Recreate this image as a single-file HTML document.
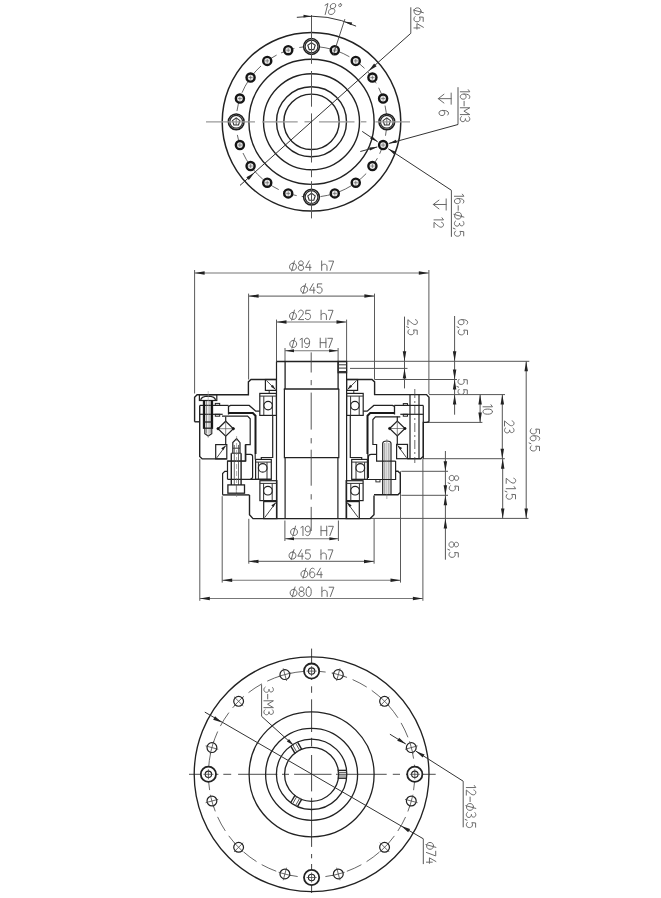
<!DOCTYPE html>
<html><head><meta charset="utf-8"><style>
html,body{margin:0;padding:0;background:#fff;}
svg{display:block;font-family:"Liberation Sans",sans-serif;}
</style></head><body>
<svg width="661" height="898" viewBox="0 0 661 898">
<rect width="661" height="898" fill="#fff"/>
<circle cx="311.50" cy="121.80" r="89.30" stroke="#222" stroke-width="1.5" fill="none"/>
<circle cx="311.50" cy="121.80" r="62.60" stroke="#222" stroke-width="1.4" fill="none"/>
<circle cx="311.50" cy="121.80" r="48.00" stroke="#222" stroke-width="1.4" fill="none"/>
<circle cx="311.50" cy="121.80" r="35.00" stroke="#222" stroke-width="1.4" fill="none"/>
<circle cx="311.50" cy="121.80" r="27.70" stroke="#222" stroke-width="1.4" fill="none"/>
<circle cx="311.50" cy="121.80" r="75.30" stroke="#555" stroke-width="0.9" fill="none" stroke-dasharray="14 5"/>
<circle cx="311.50" cy="46.50" r="7.90" stroke="#1e1e1e" stroke-width="1.5" fill="#fff"/>
<circle cx="311.50" cy="46.50" r="6.40" stroke="#2a2a2a" stroke-width="1.2" fill="none"/>
<polygon points="311.50,42.60 315.21,45.29 313.79,49.66 309.21,49.66 307.79,45.29" stroke="#333" stroke-width="1.1" fill="none"/>
<line x1="311.50" y1="42.60" x2="311.50" y2="49.70" stroke="#444" stroke-width="0.8" />
<circle cx="334.77" cy="50.19" r="4.05" stroke="#151515" stroke-width="2.4" fill="#e8e8e8"/>
<line x1="332.77" y1="50.19" x2="336.77" y2="50.19" stroke="#666" stroke-width="0.7" />
<line x1="334.77" y1="48.19" x2="334.77" y2="52.19" stroke="#666" stroke-width="0.7" />
<circle cx="355.76" cy="60.88" r="4.05" stroke="#151515" stroke-width="2.4" fill="#e8e8e8"/>
<line x1="353.76" y1="60.88" x2="357.76" y2="60.88" stroke="#666" stroke-width="0.7" />
<line x1="355.76" y1="58.88" x2="355.76" y2="62.88" stroke="#666" stroke-width="0.7" />
<circle cx="372.42" cy="77.54" r="4.05" stroke="#151515" stroke-width="2.4" fill="#e8e8e8"/>
<line x1="370.42" y1="77.54" x2="374.42" y2="77.54" stroke="#666" stroke-width="0.7" />
<line x1="372.42" y1="75.54" x2="372.42" y2="79.54" stroke="#666" stroke-width="0.7" />
<circle cx="383.11" cy="98.53" r="4.05" stroke="#151515" stroke-width="2.4" fill="#e8e8e8"/>
<line x1="381.11" y1="98.53" x2="385.11" y2="98.53" stroke="#666" stroke-width="0.7" />
<line x1="383.11" y1="96.53" x2="383.11" y2="100.53" stroke="#666" stroke-width="0.7" />
<circle cx="386.80" cy="121.80" r="7.90" stroke="#1e1e1e" stroke-width="1.5" fill="#fff"/>
<circle cx="386.80" cy="121.80" r="6.40" stroke="#2a2a2a" stroke-width="1.2" fill="none"/>
<polygon points="386.80,117.90 390.51,120.59 389.09,124.96 384.51,124.96 383.09,120.59" stroke="#333" stroke-width="1.1" fill="none"/>
<line x1="386.80" y1="117.90" x2="386.80" y2="125.00" stroke="#444" stroke-width="0.8" />
<circle cx="383.11" cy="145.07" r="4.05" stroke="#151515" stroke-width="2.4" fill="#e8e8e8"/>
<line x1="381.11" y1="145.07" x2="385.11" y2="145.07" stroke="#666" stroke-width="0.7" />
<line x1="383.11" y1="143.07" x2="383.11" y2="147.07" stroke="#666" stroke-width="0.7" />
<circle cx="372.42" cy="166.06" r="4.05" stroke="#151515" stroke-width="2.4" fill="#e8e8e8"/>
<line x1="370.42" y1="166.06" x2="374.42" y2="166.06" stroke="#666" stroke-width="0.7" />
<line x1="372.42" y1="164.06" x2="372.42" y2="168.06" stroke="#666" stroke-width="0.7" />
<circle cx="355.76" cy="182.72" r="4.05" stroke="#151515" stroke-width="2.4" fill="#e8e8e8"/>
<line x1="353.76" y1="182.72" x2="357.76" y2="182.72" stroke="#666" stroke-width="0.7" />
<line x1="355.76" y1="180.72" x2="355.76" y2="184.72" stroke="#666" stroke-width="0.7" />
<circle cx="334.77" cy="193.41" r="4.05" stroke="#151515" stroke-width="2.4" fill="#e8e8e8"/>
<line x1="332.77" y1="193.41" x2="336.77" y2="193.41" stroke="#666" stroke-width="0.7" />
<line x1="334.77" y1="191.41" x2="334.77" y2="195.41" stroke="#666" stroke-width="0.7" />
<circle cx="311.50" cy="197.10" r="7.90" stroke="#1e1e1e" stroke-width="1.5" fill="#fff"/>
<circle cx="311.50" cy="197.10" r="6.40" stroke="#2a2a2a" stroke-width="1.2" fill="none"/>
<polygon points="311.50,193.20 315.21,195.89 313.79,200.26 309.21,200.26 307.79,195.89" stroke="#333" stroke-width="1.1" fill="none"/>
<line x1="311.50" y1="193.20" x2="311.50" y2="200.30" stroke="#444" stroke-width="0.8" />
<circle cx="288.23" cy="193.41" r="4.05" stroke="#151515" stroke-width="2.4" fill="#e8e8e8"/>
<line x1="286.23" y1="193.41" x2="290.23" y2="193.41" stroke="#666" stroke-width="0.7" />
<line x1="288.23" y1="191.41" x2="288.23" y2="195.41" stroke="#666" stroke-width="0.7" />
<circle cx="267.24" cy="182.72" r="4.05" stroke="#151515" stroke-width="2.4" fill="#e8e8e8"/>
<line x1="265.24" y1="182.72" x2="269.24" y2="182.72" stroke="#666" stroke-width="0.7" />
<line x1="267.24" y1="180.72" x2="267.24" y2="184.72" stroke="#666" stroke-width="0.7" />
<circle cx="250.58" cy="166.06" r="4.05" stroke="#151515" stroke-width="2.4" fill="#e8e8e8"/>
<line x1="248.58" y1="166.06" x2="252.58" y2="166.06" stroke="#666" stroke-width="0.7" />
<line x1="250.58" y1="164.06" x2="250.58" y2="168.06" stroke="#666" stroke-width="0.7" />
<circle cx="239.89" cy="145.07" r="4.05" stroke="#151515" stroke-width="2.4" fill="#e8e8e8"/>
<line x1="237.89" y1="145.07" x2="241.89" y2="145.07" stroke="#666" stroke-width="0.7" />
<line x1="239.89" y1="143.07" x2="239.89" y2="147.07" stroke="#666" stroke-width="0.7" />
<circle cx="236.20" cy="121.80" r="7.90" stroke="#1e1e1e" stroke-width="1.5" fill="#fff"/>
<circle cx="236.20" cy="121.80" r="6.40" stroke="#2a2a2a" stroke-width="1.2" fill="none"/>
<polygon points="236.20,117.90 239.91,120.59 238.49,124.96 233.91,124.96 232.49,120.59" stroke="#333" stroke-width="1.1" fill="none"/>
<line x1="236.20" y1="117.90" x2="236.20" y2="125.00" stroke="#444" stroke-width="0.8" />
<circle cx="239.89" cy="98.53" r="4.05" stroke="#151515" stroke-width="2.4" fill="#e8e8e8"/>
<line x1="237.89" y1="98.53" x2="241.89" y2="98.53" stroke="#666" stroke-width="0.7" />
<line x1="239.89" y1="96.53" x2="239.89" y2="100.53" stroke="#666" stroke-width="0.7" />
<circle cx="250.58" cy="77.54" r="4.05" stroke="#151515" stroke-width="2.4" fill="#e8e8e8"/>
<line x1="248.58" y1="77.54" x2="252.58" y2="77.54" stroke="#666" stroke-width="0.7" />
<line x1="250.58" y1="75.54" x2="250.58" y2="79.54" stroke="#666" stroke-width="0.7" />
<circle cx="267.24" cy="60.88" r="4.05" stroke="#151515" stroke-width="2.4" fill="#e8e8e8"/>
<line x1="265.24" y1="60.88" x2="269.24" y2="60.88" stroke="#666" stroke-width="0.7" />
<line x1="267.24" y1="58.88" x2="267.24" y2="62.88" stroke="#666" stroke-width="0.7" />
<circle cx="288.23" cy="50.19" r="4.05" stroke="#151515" stroke-width="2.4" fill="#e8e8e8"/>
<line x1="286.23" y1="50.19" x2="290.23" y2="50.19" stroke="#666" stroke-width="0.7" />
<line x1="288.23" y1="48.19" x2="288.23" y2="52.19" stroke="#666" stroke-width="0.7" />
<line x1="206.00" y1="121.80" x2="255.00" y2="121.80" stroke="#9a9a9a" stroke-width="1.3" />
<line x1="262.30" y1="121.80" x2="297.70" y2="121.80" stroke="#9a9a9a" stroke-width="1.3" />
<line x1="304.50" y1="121.80" x2="311.80" y2="121.80" stroke="#9a9a9a" stroke-width="1.3" />
<line x1="319.00" y1="121.80" x2="354.50" y2="121.80" stroke="#9a9a9a" stroke-width="1.3" />
<line x1="361.00" y1="121.80" x2="366.40" y2="121.80" stroke="#9a9a9a" stroke-width="1.3" />
<line x1="375.40" y1="121.80" x2="410.00" y2="121.80" stroke="#9a9a9a" stroke-width="1.3" />
<line x1="311.50" y1="15.00" x2="311.50" y2="63.80" stroke="#555" stroke-width="1.0" />
<line x1="311.50" y1="71.00" x2="311.50" y2="106.70" stroke="#555" stroke-width="1.0" />
<line x1="311.50" y1="113.40" x2="311.50" y2="162.50" stroke="#555" stroke-width="1.0" />
<line x1="311.50" y1="169.00" x2="311.50" y2="177.20" stroke="#555" stroke-width="1.0" />
<line x1="311.50" y1="181.20" x2="311.50" y2="218.40" stroke="#555" stroke-width="1.0" />
<path d="M296.82,17.33 A105.5,105.5 0 0 1 356.09,26.18" stroke="#333" stroke-width="1.0" fill="none" />
<path d="M311.50,16.30 L303.47,17.54 L303.53,14.74Z" fill="#222" stroke="none"/>
<path d="M344.10,21.46 L352.14,22.60 L351.28,25.27Z" fill="#222" stroke="none"/>
<line x1="333.13" y1="55.23" x2="344.87" y2="19.09" stroke="#444" stroke-width="0.9" />
<line x1="240.00" y1="185.40" x2="410.80" y2="33.30" stroke="#333" stroke-width="1.0" />
<line x1="410.80" y1="33.30" x2="410.80" y2="7.30" stroke="#555" stroke-width="1.0" />
<path d="M368.63,70.92 L374.09,63.52 L376.62,66.36Z" fill="#222" stroke="none"/>
<path d="M254.37,172.68 L248.91,180.08 L246.38,177.24Z" fill="#222" stroke="none"/>
<line x1="458.00" y1="87.20" x2="458.00" y2="124.50" stroke="#555" stroke-width="1.0" />
<line x1="458.00" y1="124.50" x2="388.70" y2="143.50" stroke="#333" stroke-width="1.0" />
<path d="M388.70,143.50 L395.95,139.75 L396.83,142.83Z" fill="#222" stroke="none"/>
<line x1="388.30" y1="148.80" x2="451.40" y2="190.30" stroke="#333" stroke-width="1.0" />
<line x1="451.40" y1="190.30" x2="451.40" y2="236.80" stroke="#555" stroke-width="1.0" />
<path d="M388.30,148.80 L395.89,151.78 L394.16,154.47Z" fill="#222" stroke="none"/>
<line x1="362.20" y1="131.40" x2="377.70" y2="141.80" stroke="#333" stroke-width="1.0" />
<path d="M377.70,141.80 L370.17,138.67 L371.95,136.01Z" fill="#222" stroke="none"/>
<line x1="360.30" y1="151.50" x2="377.30" y2="146.90" stroke="#333" stroke-width="1.0" />
<path d="M377.30,146.90 L370.00,150.53 L369.16,147.45Z" fill="#222" stroke="none"/>
<line x1="194.60" y1="273.00" x2="428.80" y2="273.00" stroke="#777" stroke-width="1.1" />
<path d="M194.60,273.00 L204.60,271.25 L204.60,274.75Z" fill="#222" stroke="none"/>
<path d="M428.80,273.00 L418.80,274.75 L418.80,271.25Z" fill="#222" stroke="none"/>
<line x1="194.60" y1="270.00" x2="194.60" y2="393.50" stroke="#5a5a5a" stroke-width="1.0" />
<line x1="428.90" y1="270.00" x2="428.90" y2="394.00" stroke="#5a5a5a" stroke-width="1.0" />
<line x1="248.60" y1="296.10" x2="374.40" y2="296.10" stroke="#777" stroke-width="1.1" />
<path d="M248.60,296.10 L258.60,294.35 L258.60,297.85Z" fill="#222" stroke="none"/>
<path d="M374.40,296.10 L364.40,297.85 L364.40,294.35Z" fill="#222" stroke="none"/>
<line x1="248.60" y1="293.60" x2="248.60" y2="379.50" stroke="#5a5a5a" stroke-width="1.0" />
<line x1="374.50" y1="293.60" x2="374.50" y2="379.50" stroke="#5a5a5a" stroke-width="1.0" />
<line x1="276.50" y1="322.00" x2="346.50" y2="322.00" stroke="#777" stroke-width="1.1" />
<path d="M276.50,322.00 L286.50,320.25 L286.50,323.75Z" fill="#222" stroke="none"/>
<path d="M346.50,322.00 L336.50,323.75 L336.50,320.25Z" fill="#222" stroke="none"/>
<line x1="276.50" y1="319.60" x2="276.50" y2="361.50" stroke="#5a5a5a" stroke-width="1.0" />
<line x1="346.60" y1="319.60" x2="346.60" y2="361.50" stroke="#5a5a5a" stroke-width="1.0" />
<line x1="285.00" y1="350.70" x2="338.10" y2="350.70" stroke="#777" stroke-width="1.1" />
<path d="M285.00,350.70 L294.00,349.20 L294.00,352.20Z" fill="#222" stroke="none"/>
<path d="M338.10,350.70 L329.10,352.20 L329.10,349.20Z" fill="#222" stroke="none"/>
<line x1="285.00" y1="348.00" x2="285.00" y2="361.50" stroke="#5a5a5a" stroke-width="1.0" />
<line x1="338.10" y1="348.00" x2="338.10" y2="361.50" stroke="#5a5a5a" stroke-width="1.0" />
<line x1="285.00" y1="538.70" x2="338.40" y2="538.70" stroke="#777" stroke-width="1.1" />
<path d="M285.00,538.70 L294.00,537.20 L294.00,540.20Z" fill="#222" stroke="none"/>
<path d="M338.40,538.70 L329.40,540.20 L329.40,537.20Z" fill="#222" stroke="none"/>
<line x1="284.90" y1="520.50" x2="284.90" y2="541.00" stroke="#5a5a5a" stroke-width="1.0" />
<line x1="338.40" y1="520.50" x2="338.40" y2="541.00" stroke="#5a5a5a" stroke-width="1.0" />
<line x1="248.50" y1="561.40" x2="374.00" y2="561.40" stroke="#777" stroke-width="1.1" />
<path d="M248.50,561.40 L258.50,559.65 L258.50,563.15Z" fill="#222" stroke="none"/>
<path d="M374.00,561.40 L364.00,563.15 L364.00,559.65Z" fill="#222" stroke="none"/>
<line x1="248.80" y1="518.80" x2="248.80" y2="563.70" stroke="#5a5a5a" stroke-width="1.0" />
<line x1="374.10" y1="518.80" x2="374.10" y2="563.70" stroke="#5a5a5a" stroke-width="1.0" />
<line x1="222.20" y1="580.30" x2="400.50" y2="580.30" stroke="#777" stroke-width="1.1" />
<path d="M222.20,580.30 L232.20,578.55 L232.20,582.05Z" fill="#222" stroke="none"/>
<path d="M400.50,580.30 L390.50,582.05 L390.50,578.55Z" fill="#222" stroke="none"/>
<line x1="222.20" y1="496.20" x2="222.20" y2="582.60" stroke="#5a5a5a" stroke-width="1.0" />
<line x1="400.50" y1="471.30" x2="400.50" y2="582.60" stroke="#5a5a5a" stroke-width="1.0" />
<line x1="199.80" y1="598.50" x2="422.90" y2="598.50" stroke="#777" stroke-width="1.1" />
<path d="M199.80,598.50 L209.80,596.75 L209.80,600.25Z" fill="#222" stroke="none"/>
<path d="M422.90,598.50 L412.90,600.25 L412.90,596.75Z" fill="#222" stroke="none"/>
<line x1="199.80" y1="458.90" x2="199.80" y2="600.80" stroke="#5a5a5a" stroke-width="1.0" />
<line x1="422.90" y1="458.70" x2="422.90" y2="600.80" stroke="#5a5a5a" stroke-width="1.0" />
<line x1="347.00" y1="361.30" x2="529.30" y2="361.30" stroke="#555" stroke-width="1.0" />
<line x1="350.00" y1="368.40" x2="407.50" y2="368.40" stroke="#555" stroke-width="1.0" />
<line x1="374.60" y1="379.50" x2="457.00" y2="379.50" stroke="#555" stroke-width="1.0" />
<line x1="429.00" y1="394.60" x2="505.00" y2="394.60" stroke="#555" stroke-width="1.0" />
<line x1="425.70" y1="422.40" x2="482.40" y2="422.40" stroke="#555" stroke-width="1.0" />
<line x1="423.30" y1="458.70" x2="504.80" y2="458.70" stroke="#555" stroke-width="1.0" />
<line x1="401.30" y1="471.30" x2="448.00" y2="471.30" stroke="#555" stroke-width="1.0" />
<line x1="401.30" y1="495.30" x2="448.00" y2="495.30" stroke="#555" stroke-width="1.0" />
<line x1="370.30" y1="518.40" x2="528.50" y2="518.40" stroke="#555" stroke-width="1.0" />
<line x1="404.50" y1="316.60" x2="404.50" y2="388.40" stroke="#555" stroke-width="1.0" />
<path d="M404.50,361.30 L402.75,351.30 L406.25,351.30Z" fill="#222" stroke="none"/>
<path d="M404.50,368.40 L406.25,378.40 L402.75,378.40Z" fill="#222" stroke="none"/>
<line x1="454.60" y1="316.00" x2="454.60" y2="414.70" stroke="#555" stroke-width="1.0" />
<path d="M454.60,361.30 L452.85,351.30 L456.35,351.30Z" fill="#222" stroke="none"/>
<path d="M454.60,379.50 L452.85,369.50 L456.35,369.50Z" fill="#222" stroke="none"/>
<path d="M454.60,379.50 L456.35,389.50 L452.85,389.50Z" fill="#222" stroke="none"/>
<path d="M454.60,394.60 L456.35,404.60 L452.85,404.60Z" fill="#222" stroke="none"/>
<line x1="480.10" y1="394.60" x2="480.10" y2="422.40" stroke="#555" stroke-width="1.0" />
<path d="M480.10,394.60 L481.85,404.60 L478.35,404.60Z" fill="#222" stroke="none"/>
<path d="M480.10,422.40 L478.35,412.40 L481.85,412.40Z" fill="#222" stroke="none"/>
<line x1="502.30" y1="394.60" x2="502.30" y2="458.70" stroke="#555" stroke-width="1.0" />
<path d="M502.30,394.60 L504.05,404.60 L500.55,404.60Z" fill="#222" stroke="none"/>
<path d="M502.30,458.70 L500.55,448.70 L504.05,448.70Z" fill="#222" stroke="none"/>
<line x1="526.20" y1="361.30" x2="526.20" y2="518.40" stroke="#555" stroke-width="1.0" />
<path d="M526.20,361.30 L527.95,371.30 L524.45,371.30Z" fill="#222" stroke="none"/>
<path d="M526.20,518.40 L524.45,508.40 L527.95,508.40Z" fill="#222" stroke="none"/>
<line x1="502.70" y1="458.70" x2="502.70" y2="518.40" stroke="#555" stroke-width="1.0" />
<path d="M502.70,458.70 L504.45,468.70 L500.95,468.70Z" fill="#222" stroke="none"/>
<path d="M502.70,518.40 L500.95,508.40 L504.45,508.40Z" fill="#222" stroke="none"/>
<line x1="445.40" y1="451.00" x2="445.40" y2="559.70" stroke="#555" stroke-width="1.0" />
<path d="M445.40,471.30 L443.65,461.30 L447.15,461.30Z" fill="#222" stroke="none"/>
<path d="M445.40,495.30 L443.65,485.30 L447.15,485.30Z" fill="#222" stroke="none"/>
<path d="M445.40,495.30 L447.15,505.30 L443.65,505.30Z" fill="#222" stroke="none"/>
<path d="M445.40,518.40 L447.15,528.40 L443.65,528.40Z" fill="#222" stroke="none"/>
<path d="M194.60,421.80 L194.60,397.30 L197.10,394.80 L248.40,394.80 L248.40,381.90 L251.00,379.50 L276.40,379.50" stroke="#222" stroke-width="1.4" fill="none" />
<path d="M429.00,421.80 L429.00,397.30 L426.50,394.60 L374.60,394.60 L374.60,381.90 L372.00,379.50 L346.60,379.50" stroke="#222" stroke-width="1.4" fill="none" />
<path d="M194.60,421.80 L199.70,421.80" stroke="#222" stroke-width="1.4" fill="none" />
<path d="M199.70,405.40 L199.70,456.40 L202.20,458.90 L226.80,458.90" stroke="#222" stroke-width="1.4" fill="none" />
<path d="M429.00,421.80 L426.50,422.40 L423.30,422.40 L423.30,456.20 L420.80,458.70 L407.50,458.70" stroke="#222" stroke-width="1.4" fill="none" />
<path d="M276.40,361.50 L346.60,361.50" stroke="#222" stroke-width="1.4" fill="none" />
<path d="M276.50,361.50 L276.50,518.60" stroke="#222" stroke-width="1.2" fill="none" />
<path d="M346.60,361.50 L346.60,518.60" stroke="#222" stroke-width="1.2" fill="none" />
<path d="M285.10,361.50 L285.10,389.00" stroke="#222" stroke-width="1.3" fill="none" />
<path d="M283.80,389.00 L339.20,389.00" stroke="#222" stroke-width="1.3" fill="none" />
<path d="M284.40,389.00 L284.40,457.70 L338.80,457.70 L338.80,389.00" stroke="#222" stroke-width="1.2" fill="none" />
<path d="M338.10,361.50 L338.10,389.00" stroke="#222" stroke-width="1.3" fill="none" />
<path d="M285.10,457.70 L285.10,518.60" stroke="#222" stroke-width="1.2" fill="none" />
<path d="M337.90,457.70 L337.90,518.60" stroke="#222" stroke-width="1.2" fill="none" />
<line x1="311.20" y1="352.40" x2="311.20" y2="372.50" stroke="#444" stroke-width="0.9" />
<line x1="311.20" y1="380.00" x2="311.20" y2="385.20" stroke="#444" stroke-width="0.9" />
<line x1="311.20" y1="392.60" x2="311.20" y2="429.60" stroke="#444" stroke-width="0.9" />
<line x1="311.20" y1="438.10" x2="311.20" y2="443.40" stroke="#444" stroke-width="0.9" />
<line x1="311.20" y1="449.70" x2="311.20" y2="485.70" stroke="#444" stroke-width="0.9" />
<line x1="311.20" y1="494.20" x2="311.20" y2="499.50" stroke="#444" stroke-width="0.9" />
<line x1="311.20" y1="506.90" x2="311.20" y2="531.00" stroke="#444" stroke-width="0.9" />
<rect x="338.10" y="361.50" width="8.50" height="11.20" stroke="#222" stroke-width="1.2" fill="none"/>
<line x1="338.10" y1="364.80" x2="346.60" y2="364.80" stroke="#333" stroke-width="1.0" />
<line x1="338.10" y1="368.10" x2="346.60" y2="368.10" stroke="#333" stroke-width="1.0" />
<line x1="338.10" y1="371.50" x2="346.60" y2="371.50" stroke="#333" stroke-width="1.0" />
<path d="M249.50,495.00 L249.50,514.80 L253.00,518.60 L370.20,518.60 L374.00,514.80 L374.00,495.50" stroke="#222" stroke-width="1.4" fill="none" />
<path d="M222.50,494.90 L249.50,494.90" stroke="#222" stroke-width="1.4" fill="none" />
<path d="M374.00,494.80 L398.00,494.80 L400.30,492.50 L400.30,473.60 L398.00,471.30 L395.60,471.30" stroke="#222" stroke-width="1.4" fill="none" />
<rect x="265.40" y="379.50" width="11.00" height="10.90" stroke="#222" stroke-width="1.2" fill="none"/>
<line x1="266.40" y1="380.50" x2="275.40" y2="389.40" stroke="#333" stroke-width="0.9" />
<path d="M275.40,389.40 L270.87,386.85 L272.85,384.87Z" fill="#222" stroke="none"/>
<rect x="346.60" y="379.50" width="11.00" height="10.90" stroke="#222" stroke-width="1.2" fill="none"/>
<line x1="356.60" y1="380.50" x2="347.60" y2="389.40" stroke="#333" stroke-width="0.9" />
<path d="M347.60,389.40 L350.15,384.87 L352.13,386.85Z" fill="#222" stroke="none"/>
<line x1="269.20" y1="390.40" x2="269.20" y2="393.40" stroke="#333" stroke-width="1.0" />
<line x1="353.80" y1="390.40" x2="353.80" y2="393.40" stroke="#333" stroke-width="1.0" />
<rect x="259.80" y="393.40" width="16.60" height="22.00" stroke="#222" stroke-width="1.2" fill="none"/>
<line x1="259.80" y1="396.10" x2="276.40" y2="396.10" stroke="#333" stroke-width="1.0" />
<line x1="263.80" y1="396.10" x2="263.80" y2="415.40" stroke="#333" stroke-width="1.0" />
<line x1="272.40" y1="396.10" x2="272.40" y2="415.40" stroke="#333" stroke-width="1.0" />
<circle cx="268.10" cy="405.60" r="4.20" stroke="#222" stroke-width="1.2" fill="#fff"/>
<rect x="346.60" y="393.40" width="16.60" height="22.00" stroke="#222" stroke-width="1.2" fill="none"/>
<line x1="346.60" y1="396.10" x2="363.20" y2="396.10" stroke="#333" stroke-width="1.0" />
<line x1="350.60" y1="396.10" x2="350.60" y2="415.40" stroke="#333" stroke-width="1.0" />
<line x1="359.20" y1="396.10" x2="359.20" y2="415.40" stroke="#333" stroke-width="1.0" />
<circle cx="354.90" cy="405.60" r="4.20" stroke="#222" stroke-width="1.2" fill="#fff"/>
<rect x="255.60" y="459.40" width="15.70" height="19.90" stroke="#222" stroke-width="1.2" fill="none"/>
<line x1="255.60" y1="462.10" x2="271.30" y2="462.10" stroke="#333" stroke-width="1.0" />
<line x1="258.40" y1="462.10" x2="258.40" y2="479.30" stroke="#333" stroke-width="1.0" />
<line x1="267.00" y1="462.10" x2="267.00" y2="479.30" stroke="#333" stroke-width="1.0" />
<circle cx="262.70" cy="467.90" r="4.30" stroke="#222" stroke-width="1.2" fill="#fff"/>
<rect x="351.70" y="459.40" width="15.70" height="19.90" stroke="#222" stroke-width="1.2" fill="none"/>
<line x1="351.70" y1="462.10" x2="367.40" y2="462.10" stroke="#333" stroke-width="1.0" />
<line x1="356.00" y1="462.10" x2="356.00" y2="479.30" stroke="#333" stroke-width="1.0" />
<line x1="364.60" y1="462.10" x2="364.60" y2="479.30" stroke="#333" stroke-width="1.0" />
<circle cx="360.30" cy="467.90" r="4.30" stroke="#222" stroke-width="1.2" fill="#fff"/>
<rect x="259.90" y="480.70" width="17.00" height="19.90" stroke="#222" stroke-width="1.2" fill="none"/>
<line x1="259.90" y1="483.40" x2="276.90" y2="483.40" stroke="#333" stroke-width="1.0" />
<line x1="263.60" y1="483.40" x2="263.60" y2="500.60" stroke="#333" stroke-width="1.0" />
<line x1="272.20" y1="483.40" x2="272.20" y2="500.60" stroke="#333" stroke-width="1.0" />
<circle cx="267.90" cy="490.70" r="4.30" stroke="#222" stroke-width="1.2" fill="#fff"/>
<rect x="346.10" y="480.70" width="17.00" height="19.90" stroke="#222" stroke-width="1.2" fill="none"/>
<line x1="346.10" y1="483.40" x2="363.10" y2="483.40" stroke="#333" stroke-width="1.0" />
<line x1="350.80" y1="483.40" x2="350.80" y2="500.60" stroke="#333" stroke-width="1.0" />
<line x1="359.40" y1="483.40" x2="359.40" y2="500.60" stroke="#333" stroke-width="1.0" />
<circle cx="355.10" cy="490.70" r="4.30" stroke="#222" stroke-width="1.2" fill="#fff"/>
<rect x="263.70" y="501.60" width="13.20" height="17.00" stroke="#222" stroke-width="1.2" fill="none"/>
<line x1="264.70" y1="517.60" x2="275.90" y2="502.60" stroke="#333" stroke-width="0.9" />
<path d="M275.90,502.60 L273.35,507.13 L271.37,505.15Z" fill="#222" stroke="none"/>
<rect x="346.10" y="501.60" width="13.20" height="17.00" stroke="#222" stroke-width="1.2" fill="none"/>
<line x1="358.30" y1="517.60" x2="347.10" y2="502.60" stroke="#333" stroke-width="0.9" />
<path d="M347.10,502.60 L351.63,505.15 L349.65,507.13Z" fill="#222" stroke="none"/>
<line x1="255.20" y1="454.00" x2="255.20" y2="459.40" stroke="#333" stroke-width="1.2" />
<line x1="367.80" y1="454.00" x2="367.80" y2="459.40" stroke="#333" stroke-width="1.2" />
<path d="M261.30,459.40 L261.30,457.50 L272.70,457.50 L272.70,415.40" stroke="#222" stroke-width="1.2" fill="none" />
<path d="M361.70,459.40 L361.70,457.50 L350.30,457.50 L350.30,415.40" stroke="#222" stroke-width="1.2" fill="none" />
<path d="M199.70,405.40 L228.50,405.40" stroke="#222" stroke-width="1.2" fill="none" />
<path d="M199.70,414.30 L222.70,414.30" stroke="#222" stroke-width="1.2" fill="none" />
<path d="M228.50,414.50 L228.50,406.50 L230.50,405.40 L249.20,405.40 L255.80,411.20 L259.80,411.20" stroke="#222" stroke-width="1.3" fill="none" />
<path d="M228.50,413.00 L252.80,413.00 L255.50,415.70 L255.50,454.00" stroke="#1a1a1a" stroke-width="2.0" fill="none" />
<path d="M222.00,416.20 L247.60,416.20 L250.20,418.80 L250.20,444.60 L245.80,444.60 L245.80,461.00 L227.30,461.00" stroke="#222" stroke-width="1.2" fill="none" />
<rect x="215.30" y="403.40" width="4.40" height="2.00" stroke="#222" stroke-width="1.0" fill="none"/>
<rect x="215.30" y="414.30" width="4.40" height="1.90" stroke="#222" stroke-width="1.0" fill="none"/>
<path d="M394.20,405.40 L423.30,405.40" stroke="#222" stroke-width="1.2" fill="none" />
<path d="M400.30,414.30 L423.30,414.30" stroke="#222" stroke-width="1.2" fill="none" />
<path d="M394.50,414.50 L394.50,406.50 L392.50,405.40 L373.80,405.40 L367.20,411.20 L363.20,411.20" stroke="#222" stroke-width="1.3" fill="none" />
<path d="M394.50,413.00 L370.20,413.00 L367.50,415.70 L367.50,454.00" stroke="#1a1a1a" stroke-width="2.0" fill="none" />
<path d="M400.30,416.90 L375.40,416.90 L372.90,419.50 L372.90,444.50 L376.60,444.50 L376.60,461.10 L395.60,461.10" stroke="#222" stroke-width="1.2" fill="none" />
<rect x="403.30" y="403.60" width="4.20" height="1.80" stroke="#222" stroke-width="1.0" fill="none"/>
<rect x="403.30" y="414.30" width="4.20" height="1.90" stroke="#222" stroke-width="1.0" fill="none"/>
<line x1="410.00" y1="394.60" x2="410.00" y2="458.70" stroke="#222" stroke-width="1.2" />
<line x1="419.00" y1="394.60" x2="419.00" y2="458.70" stroke="#222" stroke-width="1.2" />
<line x1="423.30" y1="405.40" x2="423.30" y2="458.70" stroke="#222" stroke-width="1.2" />
<line x1="414.80" y1="389.00" x2="414.80" y2="463.00" stroke="#444" stroke-width="0.8" stroke-dasharray="9 3 2 3" />
<path d="M218.00,428.70 L225.70,421.20 L233.40,428.70 L225.70,436.20Z" stroke="#222" stroke-width="1.2" fill="none"/>
<line x1="218.00" y1="428.70" x2="233.40" y2="428.70" stroke="#555" stroke-width="0.7" />
<line x1="225.70" y1="421.20" x2="225.70" y2="436.20" stroke="#555" stroke-width="0.7" />
<circle cx="218.00" cy="428.70" r="1.10" stroke="#111" stroke-width="0.8" fill="#111"/>
<circle cx="233.40" cy="428.70" r="1.10" stroke="#111" stroke-width="0.8" fill="#111"/>
<line x1="225.70" y1="416.70" x2="225.70" y2="421.20" stroke="#222" stroke-width="1.2" />
<line x1="225.70" y1="436.20" x2="225.70" y2="444.20" stroke="#222" stroke-width="1.2" />
<path d="M389.60,428.50 L397.30,421.00 L405.00,428.50 L397.30,436.00Z" stroke="#222" stroke-width="1.2" fill="none"/>
<line x1="389.60" y1="428.50" x2="405.00" y2="428.50" stroke="#555" stroke-width="0.7" />
<line x1="397.30" y1="421.00" x2="397.30" y2="436.00" stroke="#555" stroke-width="0.7" />
<circle cx="389.60" cy="428.50" r="1.10" stroke="#111" stroke-width="0.8" fill="#111"/>
<circle cx="405.00" cy="428.50" r="1.10" stroke="#111" stroke-width="0.8" fill="#111"/>
<line x1="397.30" y1="416.50" x2="397.30" y2="421.00" stroke="#222" stroke-width="1.2" />
<line x1="397.30" y1="436.00" x2="397.30" y2="444.00" stroke="#222" stroke-width="1.2" />
<rect x="215.70" y="444.60" width="11.10" height="14.30" stroke="#222" stroke-width="1.2" fill="none"/>
<line x1="216.70" y1="457.90" x2="225.80" y2="445.60" stroke="#333" stroke-width="0.9" />
<path d="M225.80,445.60 L223.25,450.13 L221.27,448.15Z" fill="#222" stroke="none"/>
<rect x="396.60" y="444.40" width="10.90" height="14.30" stroke="#222" stroke-width="1.2" fill="none"/>
<line x1="406.50" y1="457.70" x2="397.60" y2="445.40" stroke="#333" stroke-width="0.9" />
<path d="M397.60,445.40 L402.13,447.95 L400.15,449.93Z" fill="#222" stroke="none"/>
<rect x="199.40" y="394.60" width="17.40" height="5.90" stroke="#222" stroke-width="1.2" fill="none"/>
<path d="M200.6,400.5 Q201,396.4 208.1,396.2 Q215.2,396.4 215.6,400.5" stroke="#222" stroke-width="1.2" fill="none" />
<path d="M203.40,400.50 L203.40,428.20 L204.80,428.20 L204.80,433.60 L208.20,436.00 L211.80,433.60 L211.80,428.20 L212.60,428.20 L212.60,400.50" stroke="#222" stroke-width="1.1" fill="none" />
<line x1="204.30" y1="400.60" x2="204.30" y2="428.20" stroke="#111" stroke-width="1.6" />
<line x1="211.80" y1="400.60" x2="211.80" y2="428.20" stroke="#111" stroke-width="1.6" />
<line x1="206.30" y1="401.00" x2="206.30" y2="433.60" stroke="#555" stroke-width="0.8" />
<line x1="210.10" y1="401.00" x2="210.10" y2="433.60" stroke="#555" stroke-width="0.8" />
<line x1="208.20" y1="391.00" x2="208.20" y2="438.00" stroke="#999" stroke-width="0.6" />
<line x1="203.40" y1="422.00" x2="212.60" y2="422.00" stroke="#222" stroke-width="1.3" />
<line x1="203.40" y1="428.20" x2="212.60" y2="428.20" stroke="#222" stroke-width="1.3" />
<path d="M222.60,494.80 L222.60,473.50 L224.80,471.30 L227.50,471.30" stroke="#222" stroke-width="1.2" fill="none" />
<path d="M227.50,479.30 L227.50,461.10 L245.30,461.10 L245.30,444.60" stroke="#222" stroke-width="1.2" fill="none" />
<path d="M245.3,454.3 H250.5 Q252.6,454.3 252.6,456.5 V476.8 Q252.6,478.9 250.5,478.9" stroke="#222" stroke-width="1.2" fill="none" />
<path d="M227.50,479.30 L271.30,479.30" stroke="#222" stroke-width="1.2" fill="none" />
<path d="M232.80,453.20 L232.80,442.60 L236.60,438.60 L240.00,442.60 L240.00,453.20" stroke="#222" stroke-width="1.2" fill="none" />
<line x1="232.80" y1="448.20" x2="240.00" y2="448.20" stroke="#333" stroke-width="1.0" />
<line x1="231.30" y1="453.20" x2="241.10" y2="453.20" stroke="#333" stroke-width="1.1" />
<path d="M231.30,484.90 L231.30,453.20" stroke="#222" stroke-width="1.4" fill="none" />
<path d="M241.10,484.90 L241.10,453.20" stroke="#222" stroke-width="1.4" fill="none" />
<line x1="234.30" y1="445.00" x2="234.30" y2="484.90" stroke="#444" stroke-width="0.8" />
<line x1="238.50" y1="445.00" x2="238.50" y2="484.90" stroke="#444" stroke-width="0.8" />
<line x1="236.60" y1="436.00" x2="236.60" y2="497.00" stroke="#777" stroke-width="0.6" stroke-dasharray="5 2" />
<rect x="227.90" y="484.90" width="16.60" height="8.30" stroke="#222" stroke-width="1.3" fill="none"/>
<line x1="236.30" y1="484.90" x2="236.30" y2="493.20" stroke="#666" stroke-width="0.6" />
<path d="M382.7,494.2 V443.6 Q382.7,441 386.85,441 Q391,441 391,443.6 V494.2" stroke="#222" stroke-width="1.2" fill="none" />
<line x1="384.80" y1="443.00" x2="384.80" y2="494.00" stroke="#555" stroke-width="0.7" />
<line x1="388.90" y1="443.00" x2="388.90" y2="494.00" stroke="#555" stroke-width="0.7" />
<line x1="386.85" y1="439.00" x2="386.85" y2="499.00" stroke="#777" stroke-width="0.6" />
<path d="M368.4,478 V457 Q368.4,454.3 371.2,454.3 H376.6" stroke="#222" stroke-width="1.2" fill="none" />
<path d="M351.70,479.50 L395.60,479.50 L395.60,461.10" stroke="#222" stroke-width="1.2" fill="none" />
<rect x="375.90" y="479.50" width="4.10" height="2.40" stroke="#222" stroke-width="0.9" fill="none"/>
<line x1="311.60" y1="648.60" x2="311.60" y2="679.80" stroke="#444" stroke-width="1.0" />
<line x1="311.60" y1="686.30" x2="311.60" y2="692.80" stroke="#444" stroke-width="1.0" />
<line x1="311.60" y1="699.30" x2="311.60" y2="732.00" stroke="#444" stroke-width="1.0" />
<line x1="311.60" y1="737.80" x2="311.60" y2="746.40" stroke="#444" stroke-width="1.0" />
<line x1="311.60" y1="755.00" x2="311.60" y2="791.40" stroke="#444" stroke-width="1.0" />
<line x1="311.60" y1="797.80" x2="311.60" y2="846.90" stroke="#444" stroke-width="1.0" />
<line x1="311.60" y1="854.00" x2="311.60" y2="858.30" stroke="#444" stroke-width="1.0" />
<line x1="311.60" y1="864.00" x2="311.60" y2="893.00" stroke="#444" stroke-width="1.0" />
<line x1="189.00" y1="774.30" x2="218.40" y2="774.30" stroke="#3a3a3a" stroke-width="0.9" />
<line x1="223.30" y1="774.30" x2="231.20" y2="774.30" stroke="#3a3a3a" stroke-width="0.9" />
<line x1="238.10" y1="774.30" x2="277.40" y2="774.30" stroke="#3a3a3a" stroke-width="0.9" />
<line x1="282.00" y1="774.30" x2="289.00" y2="774.30" stroke="#3a3a3a" stroke-width="0.9" />
<line x1="294.10" y1="774.30" x2="331.50" y2="774.30" stroke="#3a3a3a" stroke-width="0.9" />
<line x1="336.00" y1="774.30" x2="386.70" y2="774.30" stroke="#3a3a3a" stroke-width="0.9" />
<line x1="392.80" y1="774.30" x2="400.00" y2="774.30" stroke="#3a3a3a" stroke-width="0.9" />
<line x1="406.10" y1="774.30" x2="435.70" y2="774.30" stroke="#3a3a3a" stroke-width="0.9" />
<circle cx="311.60" cy="774.30" r="117.40" stroke="#222" stroke-width="1.35" fill="none"/>
<circle cx="311.60" cy="774.30" r="62.50" stroke="#222" stroke-width="1.3" fill="none"/>
<circle cx="311.60" cy="774.30" r="46.00" stroke="#222" stroke-width="1.3" fill="none"/>
<circle cx="311.60" cy="774.30" r="35.20" stroke="#222" stroke-width="1.3" fill="none"/>
<circle cx="311.60" cy="774.30" r="27.00" stroke="#222" stroke-width="1.3" fill="none"/>
<circle cx="311.60" cy="774.30" r="103.20" stroke="#555" stroke-width="0.9" fill="none" stroke-dasharray="16 6"/>
<circle cx="311.60" cy="671.10" r="7.60" stroke="#222" stroke-width="1.8" fill="#fff"/>
<circle cx="311.60" cy="671.10" r="3.20" stroke="#222" stroke-width="1.1" fill="none"/>
<line x1="306.60" y1="671.10" x2="316.60" y2="671.10" stroke="#444" stroke-width="0.8" />
<line x1="311.60" y1="666.10" x2="311.60" y2="676.10" stroke="#444" stroke-width="0.8" />
<circle cx="414.80" cy="774.30" r="7.60" stroke="#222" stroke-width="1.8" fill="#fff"/>
<circle cx="414.80" cy="774.30" r="3.20" stroke="#222" stroke-width="1.1" fill="none"/>
<line x1="409.80" y1="774.30" x2="419.80" y2="774.30" stroke="#444" stroke-width="0.8" />
<line x1="414.80" y1="769.30" x2="414.80" y2="779.30" stroke="#444" stroke-width="0.8" />
<circle cx="311.60" cy="877.50" r="7.60" stroke="#222" stroke-width="1.8" fill="#fff"/>
<circle cx="311.60" cy="877.50" r="3.20" stroke="#222" stroke-width="1.1" fill="none"/>
<line x1="306.60" y1="877.50" x2="316.60" y2="877.50" stroke="#444" stroke-width="0.8" />
<line x1="311.60" y1="872.50" x2="311.60" y2="882.50" stroke="#444" stroke-width="0.8" />
<circle cx="208.40" cy="774.30" r="7.60" stroke="#222" stroke-width="1.8" fill="#fff"/>
<circle cx="208.40" cy="774.30" r="3.20" stroke="#222" stroke-width="1.1" fill="none"/>
<line x1="203.40" y1="774.30" x2="213.40" y2="774.30" stroke="#444" stroke-width="0.8" />
<line x1="208.40" y1="769.30" x2="208.40" y2="779.30" stroke="#444" stroke-width="0.8" />
<circle cx="338.31" cy="674.62" r="4.90" stroke="#222" stroke-width="1.2" fill="#fff"/>
<line x1="336.63" y1="680.89" x2="339.99" y2="668.34" stroke="#444" stroke-width="0.8" />
<line x1="332.03" y1="672.93" x2="344.59" y2="676.30" stroke="#444" stroke-width="0.8" />
<circle cx="384.57" cy="701.33" r="4.90" stroke="#222" stroke-width="1.2" fill="#fff"/>
<line x1="379.98" y1="705.92" x2="389.17" y2="696.73" stroke="#444" stroke-width="0.8" />
<line x1="379.98" y1="696.73" x2="389.17" y2="705.92" stroke="#444" stroke-width="0.8" />
<circle cx="411.28" cy="747.59" r="4.90" stroke="#222" stroke-width="1.2" fill="#fff"/>
<line x1="405.01" y1="749.27" x2="417.56" y2="745.91" stroke="#444" stroke-width="0.8" />
<line x1="409.60" y1="741.31" x2="412.97" y2="753.87" stroke="#444" stroke-width="0.8" />
<circle cx="411.28" cy="801.01" r="4.90" stroke="#222" stroke-width="1.2" fill="#fff"/>
<line x1="405.01" y1="799.33" x2="417.56" y2="802.69" stroke="#444" stroke-width="0.8" />
<line x1="412.97" y1="794.73" x2="409.60" y2="807.29" stroke="#444" stroke-width="0.8" />
<circle cx="384.57" cy="847.27" r="4.90" stroke="#222" stroke-width="1.2" fill="#fff"/>
<line x1="379.98" y1="842.68" x2="389.17" y2="851.87" stroke="#444" stroke-width="0.8" />
<line x1="389.17" y1="842.68" x2="379.98" y2="851.87" stroke="#444" stroke-width="0.8" />
<circle cx="338.31" cy="873.98" r="4.90" stroke="#222" stroke-width="1.2" fill="#fff"/>
<line x1="336.63" y1="867.71" x2="339.99" y2="880.26" stroke="#444" stroke-width="0.8" />
<line x1="344.59" y1="872.30" x2="332.03" y2="875.67" stroke="#444" stroke-width="0.8" />
<circle cx="284.89" cy="873.98" r="4.90" stroke="#222" stroke-width="1.2" fill="#fff"/>
<line x1="286.57" y1="867.71" x2="283.21" y2="880.26" stroke="#444" stroke-width="0.8" />
<line x1="291.17" y1="875.67" x2="278.61" y2="872.30" stroke="#444" stroke-width="0.8" />
<circle cx="238.63" cy="847.27" r="4.90" stroke="#222" stroke-width="1.2" fill="#fff"/>
<line x1="243.22" y1="842.68" x2="234.03" y2="851.87" stroke="#444" stroke-width="0.8" />
<line x1="243.22" y1="851.87" x2="234.03" y2="842.68" stroke="#444" stroke-width="0.8" />
<circle cx="211.92" cy="801.01" r="4.90" stroke="#222" stroke-width="1.2" fill="#fff"/>
<line x1="218.19" y1="799.33" x2="205.64" y2="802.69" stroke="#444" stroke-width="0.8" />
<line x1="213.60" y1="807.29" x2="210.23" y2="794.73" stroke="#444" stroke-width="0.8" />
<circle cx="211.92" cy="747.59" r="4.90" stroke="#222" stroke-width="1.2" fill="#fff"/>
<line x1="218.19" y1="749.27" x2="205.64" y2="745.91" stroke="#444" stroke-width="0.8" />
<line x1="210.23" y1="753.87" x2="213.60" y2="741.31" stroke="#444" stroke-width="0.8" />
<circle cx="238.63" cy="701.33" r="4.90" stroke="#222" stroke-width="1.2" fill="#fff"/>
<line x1="243.22" y1="705.92" x2="234.03" y2="696.73" stroke="#444" stroke-width="0.8" />
<line x1="234.03" y1="705.92" x2="243.22" y2="696.73" stroke="#444" stroke-width="0.8" />
<circle cx="284.89" cy="674.62" r="4.90" stroke="#222" stroke-width="1.2" fill="#fff"/>
<line x1="286.57" y1="680.89" x2="283.21" y2="668.34" stroke="#444" stroke-width="0.8" />
<line x1="278.61" y1="676.30" x2="291.17" y2="672.93" stroke="#444" stroke-width="0.8" />
<line x1="337.80" y1="770.40" x2="346.40" y2="770.40" stroke="#222" stroke-width="1.4" />
<line x1="337.80" y1="778.20" x2="346.40" y2="778.20" stroke="#222" stroke-width="1.4" />
<line x1="337.80" y1="772.60" x2="346.40" y2="772.60" stroke="#444" stroke-width="0.9" />
<line x1="337.80" y1="776.00" x2="346.40" y2="776.00" stroke="#444" stroke-width="0.9" />
<line x1="301.88" y1="798.94" x2="297.58" y2="806.39" stroke="#222" stroke-width="1.4" />
<line x1="295.12" y1="795.04" x2="290.82" y2="802.49" stroke="#222" stroke-width="1.4" />
<line x1="299.97" y1="797.84" x2="295.67" y2="805.29" stroke="#444" stroke-width="0.9" />
<line x1="297.03" y1="796.14" x2="292.73" y2="803.59" stroke="#444" stroke-width="0.9" />
<line x1="295.12" y1="753.56" x2="290.82" y2="746.11" stroke="#222" stroke-width="1.4" />
<line x1="301.88" y1="749.66" x2="297.58" y2="742.21" stroke="#222" stroke-width="1.4" />
<line x1="297.03" y1="752.46" x2="292.73" y2="745.01" stroke="#444" stroke-width="0.9" />
<line x1="299.97" y1="750.76" x2="295.67" y2="743.31" stroke="#444" stroke-width="0.9" />
<line x1="204.80" y1="712.10" x2="423.30" y2="838.79" stroke="#333" stroke-width="1.0" />
<line x1="423.30" y1="838.79" x2="423.30" y2="864.10" stroke="#555" stroke-width="1.0" />
<path d="M221.88,722.50 L213.14,719.65 L215.04,716.35Z" fill="#222" stroke="none"/>
<path d="M401.32,826.10 L410.06,828.95 L408.16,832.25Z" fill="#222" stroke="none"/>
<line x1="261.60" y1="684.50" x2="261.60" y2="716.30" stroke="#555" stroke-width="1.0" />
<line x1="261.60" y1="716.30" x2="293.50" y2="745.30" stroke="#333" stroke-width="1.0" />
<path d="M293.50,745.30 L286.87,741.44 L289.03,739.07Z" fill="#222" stroke="none"/>
<line x1="389.90" y1="734.20" x2="405.80" y2="744.00" stroke="#333" stroke-width="1.0" />
<path d="M405.80,744.00 L397.19,740.81 L399.08,737.75Z" fill="#222" stroke="none"/>
<line x1="416.00" y1="751.20" x2="463.20" y2="781.20" stroke="#333" stroke-width="1.0" />
<path d="M416.00,751.20 L424.56,754.51 L422.63,757.55Z" fill="#222" stroke="none"/>
<line x1="463.20" y1="781.20" x2="463.20" y2="827.30" stroke="#555" stroke-width="1.0" />
<g transform="translate(289.56,260.90) scale(9.500)" fill="none" stroke="#6a6a6a" stroke-width="1.0" stroke-linecap="round" stroke-linejoin="round" vector-effect="non-scaling-stroke"><path vector-effect="non-scaling-stroke" transform="translate(0.000,0) scale(1.029,1)" d="M0.35,0.25 C0.12,0.25 0,0.42 0,0.62 C0,0.82 0.12,0.98 0.35,0.98 C0.58,0.98 0.7,0.82 0.7,0.62 C0.7,0.42 0.58,0.25 0.35,0.25Z M0.22,1.05 L0.5,0.0"/><path vector-effect="non-scaling-stroke" transform="translate(0.920,0) scale(0.966,1)" d="M0.29,0.46 C0.12,0.46 0.04,0.36 0.04,0.23 C0.04,0.09 0.14,0 0.29,0 C0.44,0 0.54,0.09 0.54,0.23 C0.54,0.36 0.46,0.46 0.29,0.46 C0.11,0.46 0,0.57 0,0.73 C0,0.9 0.12,1 0.29,1 C0.46,1 0.58,0.9 0.58,0.73 C0.58,0.57 0.47,0.46 0.29,0.46Z"/><path vector-effect="non-scaling-stroke" transform="translate(1.680,0) scale(0.967,1)" d="M0.4,0 L0,0.68 H0.6 M0.47,0.38 V1"/><path vector-effect="non-scaling-stroke" transform="translate(3.380,0) scale(1.000,1)" d="M0,0 V1 M0,0.5 C0.08,0.4 0.17,0.35 0.28,0.35 C0.46,0.35 0.56,0.45 0.56,0.62 V1"/><path vector-effect="non-scaling-stroke" transform="translate(4.140,0) scale(0.962,1)" d="M0,0.02 H0.52 L0.14,1"/></g>
<g transform="translate(300.76,283.70) scale(9.500)" fill="none" stroke="#6a6a6a" stroke-width="1.0" stroke-linecap="round" stroke-linejoin="round" vector-effect="non-scaling-stroke"><path vector-effect="non-scaling-stroke" transform="translate(0.000,0) scale(1.029,1)" d="M0.35,0.25 C0.12,0.25 0,0.42 0,0.62 C0,0.82 0.12,0.98 0.35,0.98 C0.58,0.98 0.7,0.82 0.7,0.62 C0.7,0.42 0.58,0.25 0.35,0.25Z M0.22,1.05 L0.5,0.0"/><path vector-effect="non-scaling-stroke" transform="translate(0.920,0) scale(0.967,1)" d="M0.4,0 L0,0.68 H0.6 M0.47,0.38 V1"/><path vector-effect="non-scaling-stroke" transform="translate(1.700,0) scale(0.931,1)" d="M0.55,0.02 H0.07 L0.04,0.42 C0.12,0.37 0.2,0.35 0.29,0.35 C0.48,0.35 0.59,0.49 0.59,0.67 C0.59,0.87 0.46,1 0.28,1 C0.16,1 0.06,0.95 0,0.88"/></g>
<g transform="translate(289.55,310.10) scale(9.500)" fill="none" stroke="#6a6a6a" stroke-width="1.0" stroke-linecap="round" stroke-linejoin="round" vector-effect="non-scaling-stroke"><path vector-effect="non-scaling-stroke" transform="translate(0.000,0) scale(1.029,1)" d="M0.35,0.25 C0.12,0.25 0,0.42 0,0.62 C0,0.82 0.12,0.98 0.35,0.98 C0.58,0.98 0.7,0.82 0.7,0.62 C0.7,0.42 0.58,0.25 0.35,0.25Z M0.22,1.05 L0.5,0.0"/><path vector-effect="non-scaling-stroke" transform="translate(0.920,0) scale(0.931,1)" d="M0.02,0.2 C0.07,0.06 0.17,0 0.29,0 C0.46,0 0.57,0.11 0.57,0.27 C0.57,0.44 0.42,0.56 0.02,1 H0.6"/><path vector-effect="non-scaling-stroke" transform="translate(1.660,0) scale(0.931,1)" d="M0.55,0.02 H0.07 L0.04,0.42 C0.12,0.37 0.2,0.35 0.29,0.35 C0.48,0.35 0.59,0.49 0.59,0.67 C0.59,0.87 0.46,1 0.28,1 C0.16,1 0.06,0.95 0,0.88"/><path vector-effect="non-scaling-stroke" transform="translate(3.320,0) scale(1.000,1)" d="M0,0 V1 M0,0.5 C0.08,0.4 0.17,0.35 0.28,0.35 C0.46,0.35 0.56,0.45 0.56,0.62 V1"/><path vector-effect="non-scaling-stroke" transform="translate(4.080,0) scale(0.962,1)" d="M0,0.02 H0.52 L0.14,1"/></g>
<g transform="translate(289.82,338.10) scale(9.500)" fill="none" stroke="#6a6a6a" stroke-width="1.0" stroke-linecap="round" stroke-linejoin="round" vector-effect="non-scaling-stroke"><path vector-effect="non-scaling-stroke" transform="translate(0.000,0) scale(1.029,1)" d="M0.35,0.25 C0.12,0.25 0,0.42 0,0.62 C0,0.82 0.12,0.98 0.35,0.98 C0.58,0.98 0.7,0.82 0.7,0.62 C0.7,0.42 0.58,0.25 0.35,0.25Z M0.22,1.05 L0.5,0.0"/><path vector-effect="non-scaling-stroke" transform="translate(0.920,0) scale(1.000,1)" d="M0.16,0.16 L0.38,0 V1"/><path vector-effect="non-scaling-stroke" transform="translate(1.540,0) scale(0.931,1)" d="M0.06,0.92 C0.13,0.98 0.2,1 0.28,1 C0.48,1 0.58,0.76 0.58,0.42 C0.58,0.14 0.47,0 0.29,0 C0.11,0 0,0.13 0,0.31 C0,0.49 0.11,0.61 0.29,0.61 C0.44,0.61 0.55,0.52 0.58,0.4"/><path vector-effect="non-scaling-stroke" transform="translate(3.200,0) scale(1.000,1)" d="M0,0 V1 M0.6,0 V1 M0,0.48 H0.6"/><path vector-effect="non-scaling-stroke" transform="translate(4.000,0) scale(0.962,1)" d="M0,0.02 H0.52 L0.14,1"/></g>
<g transform="translate(290.62,526.10) scale(9.500)" fill="none" stroke="#6a6a6a" stroke-width="1.0" stroke-linecap="round" stroke-linejoin="round" vector-effect="non-scaling-stroke"><path vector-effect="non-scaling-stroke" transform="translate(0.000,0) scale(1.029,1)" d="M0.35,0.25 C0.12,0.25 0,0.42 0,0.62 C0,0.82 0.12,0.98 0.35,0.98 C0.58,0.98 0.7,0.82 0.7,0.62 C0.7,0.42 0.58,0.25 0.35,0.25Z M0.22,1.05 L0.5,0.0"/><path vector-effect="non-scaling-stroke" transform="translate(0.920,0) scale(1.000,1)" d="M0.16,0.16 L0.38,0 V1"/><path vector-effect="non-scaling-stroke" transform="translate(1.540,0) scale(0.931,1)" d="M0.06,0.92 C0.13,0.98 0.2,1 0.28,1 C0.48,1 0.58,0.76 0.58,0.42 C0.58,0.14 0.47,0 0.29,0 C0.11,0 0,0.13 0,0.31 C0,0.49 0.11,0.61 0.29,0.61 C0.44,0.61 0.55,0.52 0.58,0.4"/><path vector-effect="non-scaling-stroke" transform="translate(3.200,0) scale(1.000,1)" d="M0,0 V1 M0.6,0 V1 M0,0.48 H0.6"/><path vector-effect="non-scaling-stroke" transform="translate(4.000,0) scale(0.962,1)" d="M0,0.02 H0.52 L0.14,1"/></g>
<g transform="translate(289.06,549.70) scale(9.500)" fill="none" stroke="#6a6a6a" stroke-width="1.0" stroke-linecap="round" stroke-linejoin="round" vector-effect="non-scaling-stroke"><path vector-effect="non-scaling-stroke" transform="translate(0.000,0) scale(1.029,1)" d="M0.35,0.25 C0.12,0.25 0,0.42 0,0.62 C0,0.82 0.12,0.98 0.35,0.98 C0.58,0.98 0.7,0.82 0.7,0.62 C0.7,0.42 0.58,0.25 0.35,0.25Z M0.22,1.05 L0.5,0.0"/><path vector-effect="non-scaling-stroke" transform="translate(0.920,0) scale(0.967,1)" d="M0.4,0 L0,0.68 H0.6 M0.47,0.38 V1"/><path vector-effect="non-scaling-stroke" transform="translate(1.700,0) scale(0.931,1)" d="M0.55,0.02 H0.07 L0.04,0.42 C0.12,0.37 0.2,0.35 0.29,0.35 C0.48,0.35 0.59,0.49 0.59,0.67 C0.59,0.87 0.46,1 0.28,1 C0.16,1 0.06,0.95 0,0.88"/><path vector-effect="non-scaling-stroke" transform="translate(3.360,0) scale(1.000,1)" d="M0,0 V1 M0,0.5 C0.08,0.4 0.17,0.35 0.28,0.35 C0.46,0.35 0.56,0.45 0.56,0.62 V1"/><path vector-effect="non-scaling-stroke" transform="translate(4.120,0) scale(0.962,1)" d="M0,0.02 H0.52 L0.14,1"/></g>
<g transform="translate(300.96,568.20) scale(9.500)" fill="none" stroke="#6a6a6a" stroke-width="1.0" stroke-linecap="round" stroke-linejoin="round" vector-effect="non-scaling-stroke"><path vector-effect="non-scaling-stroke" transform="translate(0.000,0) scale(1.029,1)" d="M0.35,0.25 C0.12,0.25 0,0.42 0,0.62 C0,0.82 0.12,0.98 0.35,0.98 C0.58,0.98 0.7,0.82 0.7,0.62 C0.7,0.42 0.58,0.25 0.35,0.25Z M0.22,1.05 L0.5,0.0"/><path vector-effect="non-scaling-stroke" transform="translate(0.920,0) scale(0.931,1)" d="M0.52,0.08 C0.45,0.02 0.38,0 0.3,0 C0.1,0 0,0.24 0,0.58 C0,0.86 0.11,1 0.29,1 C0.47,1 0.58,0.87 0.58,0.69 C0.58,0.51 0.47,0.39 0.29,0.39 C0.14,0.39 0.03,0.48 0,0.6"/><path vector-effect="non-scaling-stroke" transform="translate(1.660,0) scale(0.967,1)" d="M0.4,0 L0,0.68 H0.6 M0.47,0.38 V1"/></g>
<g transform="translate(290.15,587.00) scale(9.500)" fill="none" stroke="#6a6a6a" stroke-width="1.0" stroke-linecap="round" stroke-linejoin="round" vector-effect="non-scaling-stroke"><path vector-effect="non-scaling-stroke" transform="translate(0.000,0) scale(1.029,1)" d="M0.35,0.25 C0.12,0.25 0,0.42 0,0.62 C0,0.82 0.12,0.98 0.35,0.98 C0.58,0.98 0.7,0.82 0.7,0.62 C0.7,0.42 0.58,0.25 0.35,0.25Z M0.22,1.05 L0.5,0.0"/><path vector-effect="non-scaling-stroke" transform="translate(0.920,0) scale(0.966,1)" d="M0.29,0.46 C0.12,0.46 0.04,0.36 0.04,0.23 C0.04,0.09 0.14,0 0.29,0 C0.44,0 0.54,0.09 0.54,0.23 C0.54,0.36 0.46,0.46 0.29,0.46 C0.11,0.46 0,0.57 0,0.73 C0,0.9 0.12,1 0.29,1 C0.46,1 0.58,0.9 0.58,0.73 C0.58,0.57 0.47,0.46 0.29,0.46Z"/><path vector-effect="non-scaling-stroke" transform="translate(1.680,0) scale(0.931,1)" d="M0.29,0 C0.07,0 0,0.22 0,0.5 C0,0.78 0.07,1 0.29,1 C0.51,1 0.58,0.78 0.58,0.5 C0.58,0.22 0.51,0 0.29,0Z"/><path vector-effect="non-scaling-stroke" transform="translate(3.340,0) scale(1.000,1)" d="M0,0 V1 M0,0.5 C0.08,0.4 0.17,0.35 0.28,0.35 C0.46,0.35 0.56,0.45 0.56,0.62 V1"/><path vector-effect="non-scaling-stroke" transform="translate(4.100,0) scale(0.962,1)" d="M0,0.02 H0.52 L0.14,1"/></g>
<g transform="translate(323.76,3.50) scale(11.000) skewX(-14)" fill="none" stroke="#6a6a6a" stroke-width="1.0" stroke-linecap="round" stroke-linejoin="round" vector-effect="non-scaling-stroke"><path vector-effect="non-scaling-stroke" transform="translate(0.000,0) scale(1.000,1)" d="M0.16,0.16 L0.38,0 V1"/><path vector-effect="non-scaling-stroke" transform="translate(0.620,0) scale(0.966,1)" d="M0.29,0.46 C0.12,0.46 0.04,0.36 0.04,0.23 C0.04,0.09 0.14,0 0.29,0 C0.44,0 0.54,0.09 0.54,0.23 C0.54,0.36 0.46,0.46 0.29,0.46 C0.11,0.46 0,0.57 0,0.73 C0,0.9 0.12,1 0.29,1 C0.46,1 0.58,0.9 0.58,0.73 C0.58,0.57 0.47,0.46 0.29,0.46Z"/><path vector-effect="non-scaling-stroke" transform="translate(1.380,0) scale(1.000,1)" d="M0.15,0.02 C0.06,0.02 0.02,0.08 0.02,0.15 C0.02,0.22 0.06,0.28 0.15,0.28 C0.24,0.28 0.28,0.22 0.28,0.15 C0.28,0.08 0.24,0.02 0.15,0.02Z"/></g>
<g transform="translate(423.40,7.86) rotate(90) scale(9.500)" fill="none" stroke="#6a6a6a" stroke-width="1.0" stroke-linecap="round" stroke-linejoin="round" vector-effect="non-scaling-stroke"><path vector-effect="non-scaling-stroke" transform="translate(0.000,0) scale(1.029,1)" d="M0.35,0.25 C0.12,0.25 0,0.42 0,0.62 C0,0.82 0.12,0.98 0.35,0.98 C0.58,0.98 0.7,0.82 0.7,0.62 C0.7,0.42 0.58,0.25 0.35,0.25Z M0.22,1.05 L0.5,0.0"/><path vector-effect="non-scaling-stroke" transform="translate(0.920,0) scale(0.931,1)" d="M0.55,0.02 H0.07 L0.04,0.42 C0.12,0.37 0.2,0.35 0.29,0.35 C0.48,0.35 0.59,0.49 0.59,0.67 C0.59,0.87 0.46,1 0.28,1 C0.16,1 0.06,0.95 0,0.88"/><path vector-effect="non-scaling-stroke" transform="translate(1.660,0) scale(0.967,1)" d="M0.4,0 L0,0.68 H0.6 M0.47,0.38 V1"/></g>
<g transform="translate(469.80,88.18) rotate(90) scale(9.500)" fill="none" stroke="#6a6a6a" stroke-width="1.0" stroke-linecap="round" stroke-linejoin="round" vector-effect="non-scaling-stroke"><path vector-effect="non-scaling-stroke" transform="translate(0.000,0) scale(1.000,1)" d="M0.16,0.16 L0.38,0 V1"/><path vector-effect="non-scaling-stroke" transform="translate(0.620,0) scale(0.931,1)" d="M0.52,0.08 C0.45,0.02 0.38,0 0.3,0 C0.1,0 0,0.24 0,0.58 C0,0.86 0.11,1 0.29,1 C0.47,1 0.58,0.87 0.58,0.69 C0.58,0.51 0.47,0.39 0.29,0.39 C0.14,0.39 0.03,0.48 0,0.6"/><path vector-effect="non-scaling-stroke" transform="translate(1.360,0) scale(1.000,1)" d="M0.02,0.6 H0.5"/><path vector-effect="non-scaling-stroke" transform="translate(2.060,0) scale(1.000,1)" d="M0,1 V0 L0.36,0.62 L0.72,0 V1"/><path vector-effect="non-scaling-stroke" transform="translate(2.980,0) scale(0.931,1)" d="M0.03,0.1 C0.1,0.03 0.19,0 0.29,0 C0.45,0 0.55,0.1 0.55,0.24 C0.55,0.38 0.44,0.46 0.24,0.46 C0.46,0.46 0.59,0.57 0.59,0.72 C0.59,0.89 0.46,1 0.29,1 C0.17,1 0.07,0.95 0,0.87"/></g>
<g transform="translate(448.50,92.85) rotate(90) scale(9.500)" fill="none" stroke="#6a6a6a" stroke-width="1.0" stroke-linecap="round" stroke-linejoin="round" vector-effect="non-scaling-stroke"><path vector-effect="non-scaling-stroke" transform="translate(0.000,0) scale(1.000,1)" d="M0.02,-0.28 H1.2 M0.61,-0.28 V1.08 M0.15,0.48 L0.61,1.08 L1.07,0.48"/><path vector-effect="non-scaling-stroke" transform="translate(1.850,0) scale(0.931,1)" d="M0.52,0.08 C0.45,0.02 0.38,0 0.3,0 C0.1,0 0,0.24 0,0.58 C0,0.86 0.11,1 0.29,1 C0.47,1 0.58,0.87 0.58,0.69 C0.58,0.51 0.47,0.39 0.29,0.39 C0.14,0.39 0.03,0.48 0,0.6"/></g>
<g transform="translate(463.90,192.65) rotate(90) scale(9.500)" fill="none" stroke="#6a6a6a" stroke-width="1.0" stroke-linecap="round" stroke-linejoin="round" vector-effect="non-scaling-stroke"><path vector-effect="non-scaling-stroke" transform="translate(0.000,0) scale(1.000,1)" d="M0.16,0.16 L0.38,0 V1"/><path vector-effect="non-scaling-stroke" transform="translate(0.620,0) scale(0.931,1)" d="M0.52,0.08 C0.45,0.02 0.38,0 0.3,0 C0.1,0 0,0.24 0,0.58 C0,0.86 0.11,1 0.29,1 C0.47,1 0.58,0.87 0.58,0.69 C0.58,0.51 0.47,0.39 0.29,0.39 C0.14,0.39 0.03,0.48 0,0.6"/><path vector-effect="non-scaling-stroke" transform="translate(1.360,0) scale(1.000,1)" d="M0.02,0.6 H0.5"/><path vector-effect="non-scaling-stroke" transform="translate(2.060,0) scale(1.029,1)" d="M0.35,0.25 C0.12,0.25 0,0.42 0,0.62 C0,0.82 0.12,0.98 0.35,0.98 C0.58,0.98 0.7,0.82 0.7,0.62 C0.7,0.42 0.58,0.25 0.35,0.25Z M0.22,1.05 L0.5,0.0"/><path vector-effect="non-scaling-stroke" transform="translate(2.980,0) scale(0.931,1)" d="M0.03,0.1 C0.1,0.03 0.19,0 0.29,0 C0.45,0 0.55,0.1 0.55,0.24 C0.55,0.38 0.44,0.46 0.24,0.46 C0.46,0.46 0.59,0.57 0.59,0.72 C0.59,0.89 0.46,1 0.29,1 C0.17,1 0.07,0.95 0,0.87"/><path vector-effect="non-scaling-stroke" transform="translate(3.720,0) scale(1.000,1)" d="M0.1,0.93 L0.02,1.12"/><path vector-effect="non-scaling-stroke" transform="translate(4.040,0) scale(0.931,1)" d="M0.55,0.02 H0.07 L0.04,0.42 C0.12,0.37 0.2,0.35 0.29,0.35 C0.48,0.35 0.59,0.49 0.59,0.67 C0.59,0.87 0.46,1 0.28,1 C0.16,1 0.06,0.95 0,0.88"/></g>
<g transform="translate(443.50,198.70) rotate(90) scale(9.500)" fill="none" stroke="#6a6a6a" stroke-width="1.0" stroke-linecap="round" stroke-linejoin="round" vector-effect="non-scaling-stroke"><path vector-effect="non-scaling-stroke" transform="translate(0.000,0) scale(1.000,1)" d="M0.02,-0.28 H1.2 M0.61,-0.28 V1.08 M0.15,0.48 L0.61,1.08 L1.07,0.48"/><path vector-effect="non-scaling-stroke" transform="translate(1.850,0) scale(1.000,1)" d="M0.16,0.16 L0.38,0 V1"/><path vector-effect="non-scaling-stroke" transform="translate(2.470,0) scale(0.931,1)" d="M0.02,0.2 C0.07,0.06 0.17,0 0.29,0 C0.46,0 0.57,0.11 0.57,0.27 C0.57,0.44 0.42,0.56 0.02,1 H0.6"/></g>
<g transform="translate(417.40,319.50) rotate(90) scale(9.500)" fill="none" stroke="#6a6a6a" stroke-width="1.0" stroke-linecap="round" stroke-linejoin="round" vector-effect="non-scaling-stroke"><path vector-effect="non-scaling-stroke" transform="translate(0.000,0) scale(0.931,1)" d="M0.02,0.2 C0.07,0.06 0.17,0 0.29,0 C0.46,0 0.57,0.11 0.57,0.27 C0.57,0.44 0.42,0.56 0.02,1 H0.6"/><path vector-effect="non-scaling-stroke" transform="translate(0.740,0) scale(1.000,1)" d="M0.1,0.93 L0.02,1.12"/><path vector-effect="non-scaling-stroke" transform="translate(1.060,0) scale(0.931,1)" d="M0.55,0.02 H0.07 L0.04,0.42 C0.12,0.37 0.2,0.35 0.29,0.35 C0.48,0.35 0.59,0.49 0.59,0.67 C0.59,0.87 0.46,1 0.28,1 C0.16,1 0.06,0.95 0,0.88"/></g>
<g transform="translate(467.70,319.60) rotate(90) scale(9.500)" fill="none" stroke="#6a6a6a" stroke-width="1.0" stroke-linecap="round" stroke-linejoin="round" vector-effect="non-scaling-stroke"><path vector-effect="non-scaling-stroke" transform="translate(0.000,0) scale(0.931,1)" d="M0.52,0.08 C0.45,0.02 0.38,0 0.3,0 C0.1,0 0,0.24 0,0.58 C0,0.86 0.11,1 0.29,1 C0.47,1 0.58,0.87 0.58,0.69 C0.58,0.51 0.47,0.39 0.29,0.39 C0.14,0.39 0.03,0.48 0,0.6"/><path vector-effect="non-scaling-stroke" transform="translate(0.740,0) scale(1.000,1)" d="M0.1,0.93 L0.02,1.12"/><path vector-effect="non-scaling-stroke" transform="translate(1.060,0) scale(0.931,1)" d="M0.55,0.02 H0.07 L0.04,0.42 C0.12,0.37 0.2,0.35 0.29,0.35 C0.48,0.35 0.59,0.49 0.59,0.67 C0.59,0.87 0.46,1 0.28,1 C0.16,1 0.06,0.95 0,0.88"/></g>
<g transform="translate(467.50,379.20) rotate(90) scale(9.500)" fill="none" stroke="#6a6a6a" stroke-width="1.0" stroke-linecap="round" stroke-linejoin="round" vector-effect="non-scaling-stroke"><path vector-effect="non-scaling-stroke" transform="translate(0.000,0) scale(0.931,1)" d="M0.55,0.02 H0.07 L0.04,0.42 C0.12,0.37 0.2,0.35 0.29,0.35 C0.48,0.35 0.59,0.49 0.59,0.67 C0.59,0.87 0.46,1 0.28,1 C0.16,1 0.06,0.95 0,0.88"/><path vector-effect="non-scaling-stroke" transform="translate(0.740,0) scale(1.000,1)" d="M0.1,0.93 L0.02,1.12"/><path vector-effect="non-scaling-stroke" transform="translate(1.060,0) scale(0.931,1)" d="M0.55,0.02 H0.07 L0.04,0.42 C0.12,0.37 0.2,0.35 0.29,0.35 C0.48,0.35 0.59,0.49 0.59,0.67 C0.59,0.87 0.46,1 0.28,1 C0.16,1 0.06,0.95 0,0.88"/></g>
<g transform="translate(492.50,403.19) rotate(90) scale(9.500)" fill="none" stroke="#6a6a6a" stroke-width="1.0" stroke-linecap="round" stroke-linejoin="round" vector-effect="non-scaling-stroke"><path vector-effect="non-scaling-stroke" transform="translate(0.000,0) scale(1.000,1)" d="M0.16,0.16 L0.38,0 V1"/><path vector-effect="non-scaling-stroke" transform="translate(0.620,0) scale(0.931,1)" d="M0.29,0 C0.07,0 0,0.22 0,0.5 C0,0.78 0.07,1 0.29,1 C0.51,1 0.58,0.78 0.58,0.5 C0.58,0.22 0.51,0 0.29,0Z"/></g>
<g transform="translate(514.00,420.72) rotate(90) scale(9.500)" fill="none" stroke="#6a6a6a" stroke-width="1.0" stroke-linecap="round" stroke-linejoin="round" vector-effect="non-scaling-stroke"><path vector-effect="non-scaling-stroke" transform="translate(0.000,0) scale(0.931,1)" d="M0.02,0.2 C0.07,0.06 0.17,0 0.29,0 C0.46,0 0.57,0.11 0.57,0.27 C0.57,0.44 0.42,0.56 0.02,1 H0.6"/><path vector-effect="non-scaling-stroke" transform="translate(0.740,0) scale(0.931,1)" d="M0.03,0.1 C0.1,0.03 0.19,0 0.29,0 C0.45,0 0.55,0.1 0.55,0.24 C0.55,0.38 0.44,0.46 0.24,0.46 C0.46,0.46 0.59,0.57 0.59,0.72 C0.59,0.89 0.46,1 0.29,1 C0.17,1 0.07,0.95 0,0.87"/></g>
<g transform="translate(539.70,428.69) rotate(90) scale(9.500)" fill="none" stroke="#6a6a6a" stroke-width="1.0" stroke-linecap="round" stroke-linejoin="round" vector-effect="non-scaling-stroke"><path vector-effect="non-scaling-stroke" transform="translate(0.000,0) scale(0.931,1)" d="M0.55,0.02 H0.07 L0.04,0.42 C0.12,0.37 0.2,0.35 0.29,0.35 C0.48,0.35 0.59,0.49 0.59,0.67 C0.59,0.87 0.46,1 0.28,1 C0.16,1 0.06,0.95 0,0.88"/><path vector-effect="non-scaling-stroke" transform="translate(0.740,0) scale(0.931,1)" d="M0.52,0.08 C0.45,0.02 0.38,0 0.3,0 C0.1,0 0,0.24 0,0.58 C0,0.86 0.11,1 0.29,1 C0.47,1 0.58,0.87 0.58,0.69 C0.58,0.51 0.47,0.39 0.29,0.39 C0.14,0.39 0.03,0.48 0,0.6"/><path vector-effect="non-scaling-stroke" transform="translate(1.480,0) scale(1.000,1)" d="M0.1,0.93 L0.02,1.12"/><path vector-effect="non-scaling-stroke" transform="translate(1.800,0) scale(0.931,1)" d="M0.55,0.02 H0.07 L0.04,0.42 C0.12,0.37 0.2,0.35 0.29,0.35 C0.48,0.35 0.59,0.49 0.59,0.67 C0.59,0.87 0.46,1 0.28,1 C0.16,1 0.06,0.95 0,0.88"/></g>
<g transform="translate(458.70,475.41) rotate(90) scale(9.500)" fill="none" stroke="#6a6a6a" stroke-width="1.0" stroke-linecap="round" stroke-linejoin="round" vector-effect="non-scaling-stroke"><path vector-effect="non-scaling-stroke" transform="translate(0.000,0) scale(0.966,1)" d="M0.29,0.46 C0.12,0.46 0.04,0.36 0.04,0.23 C0.04,0.09 0.14,0 0.29,0 C0.44,0 0.54,0.09 0.54,0.23 C0.54,0.36 0.46,0.46 0.29,0.46 C0.11,0.46 0,0.57 0,0.73 C0,0.9 0.12,1 0.29,1 C0.46,1 0.58,0.9 0.58,0.73 C0.58,0.57 0.47,0.46 0.29,0.46Z"/><path vector-effect="non-scaling-stroke" transform="translate(0.760,0) scale(1.000,1)" d="M0.1,0.93 L0.02,1.12"/><path vector-effect="non-scaling-stroke" transform="translate(1.080,0) scale(0.931,1)" d="M0.55,0.02 H0.07 L0.04,0.42 C0.12,0.37 0.2,0.35 0.29,0.35 C0.48,0.35 0.59,0.49 0.59,0.67 C0.59,0.87 0.46,1 0.28,1 C0.16,1 0.06,0.95 0,0.88"/></g>
<g transform="translate(515.70,478.06) rotate(90) scale(9.500)" fill="none" stroke="#6a6a6a" stroke-width="1.0" stroke-linecap="round" stroke-linejoin="round" vector-effect="non-scaling-stroke"><path vector-effect="non-scaling-stroke" transform="translate(0.000,0) scale(0.931,1)" d="M0.02,0.2 C0.07,0.06 0.17,0 0.29,0 C0.46,0 0.57,0.11 0.57,0.27 C0.57,0.44 0.42,0.56 0.02,1 H0.6"/><path vector-effect="non-scaling-stroke" transform="translate(0.740,0) scale(1.000,1)" d="M0.16,0.16 L0.38,0 V1"/><path vector-effect="non-scaling-stroke" transform="translate(1.360,0) scale(1.000,1)" d="M0.1,0.93 L0.02,1.12"/><path vector-effect="non-scaling-stroke" transform="translate(1.680,0) scale(0.931,1)" d="M0.55,0.02 H0.07 L0.04,0.42 C0.12,0.37 0.2,0.35 0.29,0.35 C0.48,0.35 0.59,0.49 0.59,0.67 C0.59,0.87 0.46,1 0.28,1 C0.16,1 0.06,0.95 0,0.88"/></g>
<g transform="translate(458.50,541.90) rotate(90) scale(9.500)" fill="none" stroke="#6a6a6a" stroke-width="1.0" stroke-linecap="round" stroke-linejoin="round" vector-effect="non-scaling-stroke"><path vector-effect="non-scaling-stroke" transform="translate(0.000,0) scale(0.966,1)" d="M0.29,0.46 C0.12,0.46 0.04,0.36 0.04,0.23 C0.04,0.09 0.14,0 0.29,0 C0.44,0 0.54,0.09 0.54,0.23 C0.54,0.36 0.46,0.46 0.29,0.46 C0.11,0.46 0,0.57 0,0.73 C0,0.9 0.12,1 0.29,1 C0.46,1 0.58,0.9 0.58,0.73 C0.58,0.57 0.47,0.46 0.29,0.46Z"/><path vector-effect="non-scaling-stroke" transform="translate(0.760,0) scale(1.000,1)" d="M0.1,0.93 L0.02,1.12"/><path vector-effect="non-scaling-stroke" transform="translate(1.080,0) scale(0.931,1)" d="M0.55,0.02 H0.07 L0.04,0.42 C0.12,0.37 0.2,0.35 0.29,0.35 C0.48,0.35 0.59,0.49 0.59,0.67 C0.59,0.87 0.46,1 0.28,1 C0.16,1 0.06,0.95 0,0.88"/></g>
<g transform="translate(273.40,687.12) rotate(90) scale(9.500)" fill="none" stroke="#6a6a6a" stroke-width="1.0" stroke-linecap="round" stroke-linejoin="round" vector-effect="non-scaling-stroke"><path vector-effect="non-scaling-stroke" transform="translate(0.000,0) scale(0.931,1)" d="M0.03,0.1 C0.1,0.03 0.19,0 0.29,0 C0.45,0 0.55,0.1 0.55,0.24 C0.55,0.38 0.44,0.46 0.24,0.46 C0.46,0.46 0.59,0.57 0.59,0.72 C0.59,0.89 0.46,1 0.29,1 C0.17,1 0.07,0.95 0,0.87"/><path vector-effect="non-scaling-stroke" transform="translate(0.740,0) scale(1.000,1)" d="M0.02,0.6 H0.5"/><path vector-effect="non-scaling-stroke" transform="translate(1.440,0) scale(1.000,1)" d="M0,1 V0 L0.36,0.62 L0.72,0 V1"/><path vector-effect="non-scaling-stroke" transform="translate(2.360,0) scale(0.931,1)" d="M0.03,0.1 C0.1,0.03 0.19,0 0.29,0 C0.45,0 0.55,0.1 0.55,0.24 C0.55,0.38 0.44,0.46 0.24,0.46 C0.46,0.46 0.59,0.57 0.59,0.72 C0.59,0.89 0.46,1 0.29,1 C0.17,1 0.07,0.95 0,0.87"/></g>
<g transform="translate(475.80,783.95) rotate(90) scale(9.500)" fill="none" stroke="#6a6a6a" stroke-width="1.0" stroke-linecap="round" stroke-linejoin="round" vector-effect="non-scaling-stroke"><path vector-effect="non-scaling-stroke" transform="translate(0.000,0) scale(1.000,1)" d="M0.16,0.16 L0.38,0 V1"/><path vector-effect="non-scaling-stroke" transform="translate(0.620,0) scale(0.931,1)" d="M0.02,0.2 C0.07,0.06 0.17,0 0.29,0 C0.46,0 0.57,0.11 0.57,0.27 C0.57,0.44 0.42,0.56 0.02,1 H0.6"/><path vector-effect="non-scaling-stroke" transform="translate(1.360,0) scale(1.000,1)" d="M0.02,0.6 H0.5"/><path vector-effect="non-scaling-stroke" transform="translate(2.060,0) scale(1.029,1)" d="M0.35,0.25 C0.12,0.25 0,0.42 0,0.62 C0,0.82 0.12,0.98 0.35,0.98 C0.58,0.98 0.7,0.82 0.7,0.62 C0.7,0.42 0.58,0.25 0.35,0.25Z M0.22,1.05 L0.5,0.0"/><path vector-effect="non-scaling-stroke" transform="translate(2.980,0) scale(0.931,1)" d="M0.03,0.1 C0.1,0.03 0.19,0 0.29,0 C0.45,0 0.55,0.1 0.55,0.24 C0.55,0.38 0.44,0.46 0.24,0.46 C0.46,0.46 0.59,0.57 0.59,0.72 C0.59,0.89 0.46,1 0.29,1 C0.17,1 0.07,0.95 0,0.87"/><path vector-effect="non-scaling-stroke" transform="translate(3.720,0) scale(1.000,1)" d="M0.1,0.93 L0.02,1.12"/><path vector-effect="non-scaling-stroke" transform="translate(4.040,0) scale(0.931,1)" d="M0.55,0.02 H0.07 L0.04,0.42 C0.12,0.37 0.2,0.35 0.29,0.35 C0.48,0.35 0.59,0.49 0.59,0.67 C0.59,0.87 0.46,1 0.28,1 C0.16,1 0.06,0.95 0,0.88"/></g>
<g transform="translate(435.90,842.45) rotate(90) scale(9.500)" fill="none" stroke="#6a6a6a" stroke-width="1.0" stroke-linecap="round" stroke-linejoin="round" vector-effect="non-scaling-stroke"><path vector-effect="non-scaling-stroke" transform="translate(0.000,0) scale(1.029,1)" d="M0.35,0.25 C0.12,0.25 0,0.42 0,0.62 C0,0.82 0.12,0.98 0.35,0.98 C0.58,0.98 0.7,0.82 0.7,0.62 C0.7,0.42 0.58,0.25 0.35,0.25Z M0.22,1.05 L0.5,0.0"/><path vector-effect="non-scaling-stroke" transform="translate(0.920,0) scale(0.962,1)" d="M0,0.02 H0.52 L0.14,1"/><path vector-effect="non-scaling-stroke" transform="translate(1.620,0) scale(0.967,1)" d="M0.4,0 L0,0.68 H0.6 M0.47,0.38 V1"/></g>
</svg></body></html>
